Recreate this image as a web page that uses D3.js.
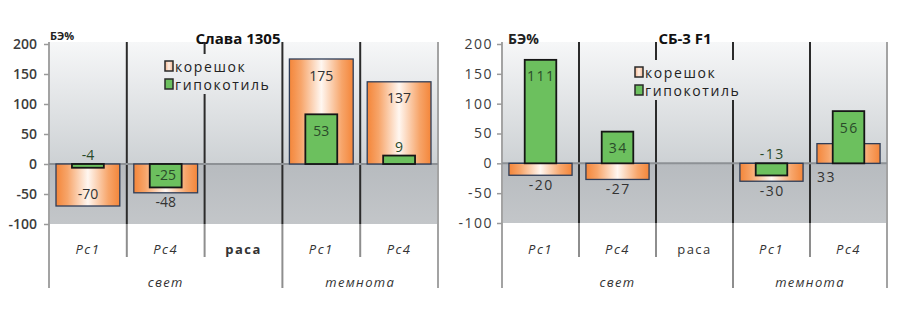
<!DOCTYPE html>
<html>
<head>
<meta charset="utf-8">
<script src="https://cdn.jsdelivr.net/npm/d3@7"></script>
<style>
  body { margin: 0; background: #fff; }
  svg { display: block; }
  text { font-family: "Open Sans", sans-serif; }
</style>
</head>
<body>
<div id="chart"></div>
<script>
// categories and groups
const categories = ["Рс1", "Рс4", "раса", "Рс1", "Рс4"];
const groupOf = ["свет", "свет", "свет", "темнота", "темнота"];
const yTicks = [-100, -50, 0, 50, 100, 150, 200];
const seriesNames = ["корешок", "гипокотиль"];

// Слава 1305
const slavaRoot = [-70, -48, null, 175, 137];
const slavaHypo = [-4, -25, null, 53, 9];
// СБ-3 F1
const sbRoot = [-20, -27, null, -30, 33];
const sbHypo = [111, 34, null, -13, 56];

// where each data label sits (in / out / base / under)
const slavaRootPos = ["in", "out", null, "in", "in"];
const slavaHypoPos = ["base", "in", null, "in", "out"];
const sbRootPos = ["out", "out", null, "out", "under"];
const sbHypoPos = ["in", "in", null, "base", "in"];

const W = 909, H = 316;
const svg = d3.select("#chart").append("svg")
              .attr("width", W)
              .attr("height", H);
const defs = svg.append("defs");

// orange bar gradient, edges orange and white centre
const og = defs.append("linearGradient").attr("id", "orangeGrad");
[[0, "#f4863a"], [0.18, "#f7a56a"], [0.5, "#fff7f1"], [0.82, "#f7a56a"], [1, "#f4863a"]]
  .forEach(s => og.append("stop").attr("offset", s[0]).attr("stop-color", s[1]));

const lg = defs.append("linearGradient").attr("id", "legendOrange");
[[0, "#f6b48a"], [0.5, "#fdeee4"], [1, "#f6b48a"]]
  .forEach(s => lg.append("stop").attr("offset", s[0]).attr("stop-color", s[1]));

function drawChart(cfg) {
  const g = svg.append("g");
  const x = d3.scaleBand()
              .domain(d3.range(categories.length))
              .range([cfg.x0, cfg.x1]);
  const y = d3.scaleLinear().domain([-100, 200]).range([cfg.yBottom, 44]);
  // hypocotyl bars sit on a hidden secondary scale
  const y2 = d3.scaleLinear().domain([-64, 128]).range([cfg.yBottom, 44]);
  const top = 42, zero = y(0);

  // plot background
  const bgId = "bg" + cfg.id;
  const bg = defs.append("linearGradient").attr("id", bgId)
                 .attr("gradientUnits", "userSpaceOnUse")
                 .attr("x1", 0).attr("y1", top).attr("x2", 0).attr("y2", zero);
  bg.append("stop").attr("offset", 0).attr("stop-color", "#f6f7f8");
  bg.append("stop").attr("offset", 1).attr("stop-color", "#cdd1d4");
  const bgLow = defs.append("linearGradient").attr("id", bgId + "low")
                    .attr("gradientUnits", "userSpaceOnUse")
                    .attr("x1", 0).attr("y1", zero).attr("x2", 0).attr("y2", cfg.yBottom);
  bgLow.append("stop").attr("offset", 0).attr("stop-color", "#b7bbbf");
  bgLow.append("stop").attr("offset", 1).attr("stop-color", "#c3c6c9");

  g.append("rect").attr("x", cfg.x0).attr("y", top)
   .attr("width", cfg.x1 - cfg.x0).attr("height", zero - top)
   .attr("fill", `url(#${bgId})`);
  g.append("rect").attr("x", cfg.x0).attr("y", zero)
   .attr("width", cfg.x1 - cfg.x0).attr("height", cfg.yBottom - zero)
   .attr("fill", `url(#${bgId}low)`);

  // dividers between categories
  const edges = d3.range(1, categories.length).map(i => x(i));
  g.selectAll(".div").data(edges).enter().append("line")
   .attr("x1", d => d).attr("x2", d => d)
   .attr("y1", top).attr("y2", cfg.yBottom)
   .attr("stroke", "#2b2b2b").attr("stroke-width", 2);

  // lower divider lines: long at group borders, short otherwise
  const groupEdge = i => i === 0 || i === categories.length || groupOf[i] !== groupOf[i - 1];
  const allEdges = d3.range(0, categories.length + 1);
  g.selectAll(".low").data(allEdges).enter().append("line")
   .attr("x1", i => i === categories.length ? cfg.x1 : x(i))
   .attr("x2", i => i === categories.length ? cfg.x1 : x(i))
   .attr("y1", i => (i === 0 || i === categories.length) ? top : cfg.yBottom)
   .attr("y2", i => groupEdge(i) ? 288 : 257)
   .attr("stroke", i => (i === 0 || i === categories.length) ? "#a3a3a3" : "#8e8e8e")
   .attr("stroke-width", 2);

  // zero line
  g.append("line").attr("x1", cfg.x0).attr("x2", cfg.x1)
   .attr("y1", zero).attr("y2", zero)
   .attr("stroke", "#8d9195").attr("stroke-width", 2);

  // y axis (plain hyphen for negatives, as in the original)
  const yAxis = d3.axisLeft(y).tickValues(yTicks).tickSize(5)
                  .tickPadding(cfg.tickPad).tickFormat(d => String(d));
  const ax = g.append("g").attr("transform", `translate(${cfg.x0},0)`).call(yAxis);
  ax.select(".domain").remove();
  ax.selectAll(".tick line").attr("stroke", "#9a9a9a").attr("stroke-width", 1.5);
  ax.selectAll(".tick text")
    .style("font-family", '"Open Sans", sans-serif')
    .style("font-size", "14px")
    .style("font-weight", cfg.tickWeight)
    .style("letter-spacing", cfg.tickSpacing + "px")
    .attr("fill", "#3c3c3c");

  // legend background hides the divider behind it
  g.append("rect").attr("x", cfg.legX - 6).attr("y", cfg.legY[0] - 12)
   .attr("width", 118).attr("height", cfg.legY[1] - cfg.legY[0] + 22)
   .attr("fill", `url(#${bgId})`);

  const bw = x.bandwidth();
  const rootW = bw * 0.82, hypoW = bw * 0.41;

  // root bars (корешок)
  g.selectAll(".root").data(cfg.root.map((v, i) => ({ v, i })).filter(d => d.v !== null))
   .enter().append("rect")
   .attr("x", d => x(d.i) + (bw - rootW) / 2)
   .attr("y", d => Math.min(y(d.v), zero))
   .attr("width", rootW)
   .attr("height", d => Math.abs(y(d.v) - zero))
   .attr("fill", "url(#orangeGrad)")
   .attr("stroke", "#2e3d58").attr("stroke-width", 1.3);

  // hypocotyl bars (гипокотиль)
  g.selectAll(".hypo").data(cfg.hypo.map((v, i) => ({ v, i })).filter(d => d.v !== null))
   .enter().append("rect")
   .attr("x", d => x(d.i) + (bw - hypoW) / 2)
   .attr("y", d => Math.min(y2(d.v), zero))
   .attr("width", hypoW)
   .attr("height", d => Math.abs(y2(d.v) - zero))
   .attr("fill", "#6cc05e")
   .attr("stroke", "#161616").attr("stroke-width", 1.8);

  // data labels
  const labelY = (scale, v, mode) => {
    const e = scale(v);
    const out = v >= 0 ? -1 : 1;
    if (mode === "in") return e - out * (v >= 0 ? 16 : 13);
    if (mode === "out") return e + out * 9;
    if (mode === "base") return zero - 10;
    return zero + 13;
  };
  const addLabels = (vals, pos, scale, colour, w) => {
    vals.forEach((v, i) => {
      if (v === null) return;
      const under = pos[i] === "under";
      g.append("text")
       .attr("x", under ? x(i) + (bw - w) / 2 : x(i) + bw / 2 + cfg.valSpacing / 2)
       .attr("y", labelY(scale, v, pos[i]))
       .attr("text-anchor", under ? "start" : "middle")
       .attr("dominant-baseline", "central")
       .style("font-size", "14px")
       .style("letter-spacing", cfg.valSpacing + "px")
       .attr("fill", colour)
       .text(v);
    });
  };
  addLabels(cfg.root, cfg.rootPos, y, "#333", rootW);
  addLabels(cfg.hypo, cfg.hypoPos, y2, "#2a4a2a", hypoW);

  // legend
  seriesNames.forEach((name, k) => {
    g.append("rect").attr("x", cfg.legX).attr("y", cfg.legY[k] - 5)
     .attr("width", 8).attr("height", 10)
     .attr("fill", k === 0 ? "url(#legendOrange)" : "#6cc05e")
     .attr("stroke", "#2a2a2a").attr("stroke-width", 1.5);
    g.append("text").attr("x", cfg.legX + 10).attr("y", cfg.legY[k])
     .attr("dominant-baseline", "central")
     .style("font-size", "14px")
     .style("letter-spacing", "1.6px")
     .attr("fill", "#222")
     .text(name);
  });

  // titles
  g.append("text").attr("x", cfg.titleX).attr("y", 38)
   .attr("text-anchor", "middle").attr("dominant-baseline", "central")
   .style("font-size", "15px").style("font-weight", 700)
   .attr("fill", "#111").text(cfg.title);
  g.append("text").attr("x", cfg.unitX).attr("y", cfg.unitY)
   .attr("dominant-baseline", "central")
   .style("font-size", cfg.unitSize + "px").style("font-weight", 700)
   .attr("fill", "#222").text("БЭ%");

  // category labels
  categories.forEach((c, i) => {
    const bold = c === "раса";
    g.append("text").attr("x", x(i) + bw / 2).attr("y", 249)
     .attr("text-anchor", "middle").attr("dominant-baseline", "central")
     .style("font-size", "13px")
     .style("font-style", bold ? "normal" : "italic")
     .style("font-weight", bold && cfg.raceBold ? 700 : 400)
     .style("letter-spacing", bold && !cfg.raceBold ? "1.5px" : "1.5px")
     .attr("fill", "#333").text(c);
  });

  // group labels
  const groups = [];
  groupOf.forEach((gName, i) => {
    if (!groups.length || groups[groups.length - 1].name !== gName)
      groups.push({ name: gName, start: i, end: i });
    else groups[groups.length - 1].end = i;
  });
  groups.forEach(gr => {
    const a = x(gr.start), b = x(gr.end) + bw;
    g.append("text").attr("x", (a + b) / 2).attr("y", 282)
     .attr("text-anchor", "middle").attr("dominant-baseline", "central")
     .style("font-size", "13px").style("font-style", "italic")
     .style("letter-spacing", "1.3px")
     .attr("fill", "#333").text(gr.name);
  });
}

drawChart({
  id: "L", x0: 49, x1: 438, yBottom: 224,
  root: slavaRoot, hypo: slavaHypo, rootPos: slavaRootPos, hypoPos: slavaHypoPos,
  title: "Слава 1305", titleX: 238,
  unitX: 50, unitY: 35, unitSize: 11,
  legX: 165, legY: [66, 84],
  tickPad: 7, tickWeight: 600, tickSpacing: 0, valSpacing: 0, raceBold: true
});

drawChart({
  id: "R", x0: 502, x1: 887, yBottom: 223,
  root: sbRoot, hypo: sbHypo, rootPos: sbRootPos, hypoPos: sbHypoPos,
  title: "СБ-3 F1", titleX: 685,
  unitX: 508, unitY: 38, unitSize: 14,
  legX: 635, legY: [72, 90],
  tickPad: 4, tickWeight: 400, tickSpacing: 1.5, valSpacing: 1.5, raceBold: false
});
</script>
</body>
</html>
